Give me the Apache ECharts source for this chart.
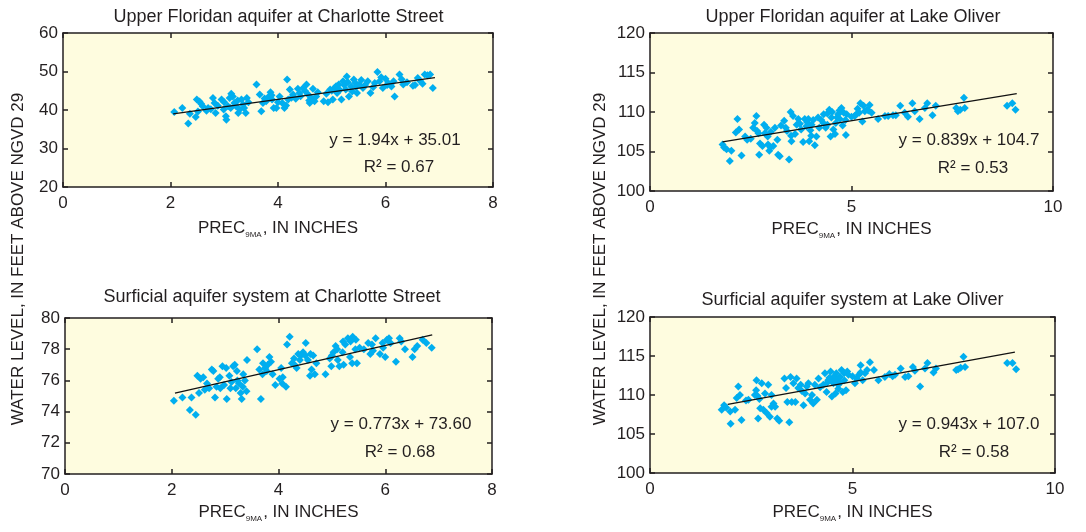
<!DOCTYPE html>
<html>
<head>
<meta charset="utf-8">
<script src="https://cdn.jsdelivr.net/npm/echarts@6/dist/echarts.min.js"></script>
<style>
html,body{margin:0;padding:0;background:#fff;}
#c{width:1086px;height:532px;}
</style>
</head>
<body>
<div id="c"></div>
<script>
// ---------- DATA ----------
const titles = [
  'Upper Floridan aquifer at Charlotte Street',
  'Upper Floridan aquifer at Lake Oliver',
  'Surficial aquifer system at Charlotte Street',
  'Surficial aquifer system at Lake Oliver'
];
const equations = ['y = 1.94x + 35.01', 'y = 0.839x + 104.7', 'y = 0.773x + 73.60', 'y = 0.943x + 107.0'];
const rSquared = ['R\u00B2 = 0.67', 'R\u00B2 = 0.53', 'R\u00B2 = 0.68', 'R\u00B2 = 0.58'];
const xRanges = [[0, 8, 2], [0, 10, 5], [0, 8, 2], [0, 10, 5]];
const yRanges = [[20, 60, 10], [100, 120, 5], [70, 80, 2], [100, 120, 5]];

const ufCharlotte = [
[2.07,39.5],[2.22,40.5],[2.33,36.5],[2.36,39.0],[2.47,38.2],[2.49,42.7],[2.54,42.2],[2.57,41.6],[2.51,39.6],[2.67,39.8],
[2.70,40.5],[2.79,43.1],[2.82,41.8],[2.84,39.2],[2.88,41.1],[2.95,42.7],[2.99,40.1],[3.03,38.4],[3.04,37.5],[3.07,41.0],
[3.10,43.1],[3.13,44.2],[3.16,43.5],[3.19,41.8],[3.22,41.0],[3.26,39.2],[3.29,40.1],[3.32,42.7],[3.35,41.4],[3.40,39.2],
[3.42,43.1],[3.60,46.6],[3.66,44.0],[3.69,39.7],[3.72,41.8],[3.78,42.3],[3.83,43.5],[3.86,44.6],[3.89,42.7],[3.92,40.5],
[3.97,40.5],[4.03,43.5],[4.08,41.8],[4.12,40.5],[4.17,47.9],[4.19,42.7],[4.22,45.3],[4.28,44.0],[4.33,42.9],[4.37,45.5],
[4.40,44.4],[4.47,45.7],[4.53,46.6],[4.56,44.0],[4.59,41.8],[4.62,43.1],[4.65,45.5],[4.68,42.3],[4.71,43.5],[4.85,42.3],
[4.93,42.0],[4.97,45.3],[5.02,42.7],[5.05,45.7],[5.10,44.4],[5.13,46.6],[5.18,42.7],[5.21,47.5],[5.26,45.3],[5.28,48.7],
[5.32,43.5],[5.36,46.1],[5.41,47.9],[5.44,47.0],[5.47,44.4],[5.51,46.6],[5.58,45.7],[5.67,47.5],[5.72,44.4],[5.77,45.9],
[5.85,49.9],[5.89,47.5],[5.95,45.7],[6.00,48.1],[6.05,47.0],[6.11,46.1],[6.17,43.5],[6.26,49.2],[6.33,46.6],[6.51,46.3],
[6.60,48.3],[6.69,46.8],[6.73,49.2],[6.83,49.2],[6.88,45.7],
[2.60,41.0],[2.75,40.2],[3.00,42.0],[3.12,40.5],[3.25,42.5],[3.37,40.5],[3.45,42.0],[3.75,43.0],[3.88,43.8],[4.00,42.0],
[4.15,41.2],[4.25,43.2],[4.42,43.6],[4.50,45.0],[4.58,42.5],[4.74,44.6],[4.90,44.2],[5.00,45.0],[5.08,46.2],[5.15,45.2],
[5.23,46.5],[5.30,47.2],[5.38,44.8],[5.45,46.0],[5.55,47.8],[5.62,46.5],[5.80,47.0],[5.92,48.5],[6.03,46.5],[6.15,47.5],
[6.30,48.0],[6.40,47.2],[6.55,46.5],[6.65,47.5],[6.78,49.0]
];
const ufCharlotteFit = [[2.05,38.99],[6.92,48.43]];

const ufOliver = [
[1.80,105.9],[1.84,105.5],[1.90,105.3],[1.98,103.8],[2.02,105.1],[2.13,107.4],[2.17,109.1],[2.21,107.8],[2.27,104.5],[2.36,106.9],
[2.41,106.5],[2.56,108.0],[2.60,108.6],[2.64,109.5],[2.66,107.6],[2.69,107.3],[2.71,104.6],[2.73,106.0],[2.79,105.7],[2.83,108.4],
[2.89,108.0],[2.92,106.9],[2.93,105.9],[2.96,105.1],[2.99,105.5],[3.06,105.7],[3.10,108.0],[3.16,106.5],[3.18,104.6],[3.22,104.4],
[3.33,108.9],[3.37,108.0],[3.40,107.6],[3.45,104.0],[3.49,110.0],[3.51,106.3],[3.55,109.5],[3.60,107.2],[3.64,108.4],[3.68,109.1],
[3.72,108.5],[3.80,106.2],[3.84,109.1],[3.88,108.2],[3.93,109.1],[3.95,106.3],[3.98,107.7],[4.01,108.4],[4.05,109.0],[4.09,105.8],
[4.13,106.9],[4.17,109.3],[4.30,108.6],[4.31,109.7],[4.36,108.0],[4.40,109.8],[4.45,110.3],[4.48,106.9],[4.50,109.3],[4.55,107.8],
[4.59,107.2],[4.61,108.6],[4.64,109.3],[4.67,109.7],[4.71,109.1],[4.75,110.5],[4.78,108.3],[4.81,109.9],[4.86,107.1],[4.88,109.7],
[5.08,109.5],[5.12,109.7],[5.19,109.9],[5.22,111.1],[5.27,108.8],[5.33,110.1],[5.39,110.3],[5.45,110.9],[5.50,109.9],[5.66,109.1],
[5.83,109.5],[5.91,109.5],[6.03,109.6],[6.10,109.6],[6.21,110.8],[6.32,109.9],[6.40,109.4],[6.51,111.1],[6.57,110.1],[6.69,109.1],
[6.82,110.5],[6.88,111.1],[7.01,109.6],[7.09,110.8],[7.60,110.5],[7.64,110.1],[7.70,110.3],[7.79,111.8],[7.81,110.5],[8.86,110.8],
[8.99,111.1],[9.07,110.3],
[3.00,107.5],[3.25,108.3],[3.50,107.0],[3.75,107.8],[3.90,108.7],[4.20,108.0],[4.25,109.0],[4.40,108.4],[4.52,110.0],[4.70,110.2],
[4.85,109.0],[5.00,109.4],[5.15,110.4],[5.30,110.8],[5.42,110.2],[4.00,107.0],[2.50,106.6],[2.85,107.3]
];
const ufOliverFit = [[1.80,106.21],[9.10,112.33]];

const sasCharlotte = [
[2.04,74.7],[2.20,74.9],[2.34,74.1],[2.37,74.9],[2.45,73.8],[2.48,76.3],[2.51,75.2],[2.54,76.1],[2.59,76.2],[2.66,75.8],
[2.70,75.5],[2.75,76.7],[2.78,76.6],[2.81,74.9],[2.84,75.6],[2.87,76.1],[2.91,75.5],[2.95,76.9],[2.98,75.7],[3.02,76.8],
[3.03,74.8],[3.08,76.3],[3.12,75.9],[3.15,76.9],[3.18,77.0],[3.20,75.5],[3.23,76.0],[3.26,75.8],[3.29,75.2],[3.31,74.8],
[3.34,76.4],[3.37,76.0],[3.40,75.3],[3.41,77.3],[3.60,78.0],[3.64,76.7],[3.67,74.8],[3.71,77.1],[3.75,76.8],[3.78,76.6],
[3.83,77.5],[3.86,77.2],[3.89,76.4],[3.94,75.7],[4.02,76.1],[4.07,75.8],[4.08,76.2],[4.14,75.6],[4.16,78.3],[4.21,78.8],
[4.25,77.1],[4.29,77.4],[4.34,76.8],[4.37,77.7],[4.42,77.6],[4.46,77.8],[4.51,78.4],[4.55,77.3],[4.59,76.3],[4.62,76.7],
[4.65,77.6],[4.68,76.4],[4.71,77.1],[4.88,76.4],[4.96,77.4],[4.99,76.9],[5.03,77.8],[5.07,78.2],[5.11,77.3],[5.14,76.9],
[5.21,78.5],[5.22,77.0],[5.30,78.7],[5.34,77.5],[5.38,77.1],[5.39,78.8],[5.44,78.0],[5.47,77.1],[5.52,78.1],[5.68,78.4],
[5.72,77.7],[5.77,77.9],[5.82,78.7],[5.90,77.7],[5.96,78.1],[6.00,77.5],[6.03,78.6],[6.07,78.7],[6.20,77.2],[6.27,78.7],
[6.37,78.0],[6.51,77.5],[6.55,78.0],[6.70,78.6],[6.77,78.4],[6.87,78.1],
[2.62,75.4],[2.90,76.2],[3.10,75.5],[3.22,76.6],[3.33,75.6],[3.70,76.4],[3.80,77.0],[4.05,76.8],[4.30,77.0],[4.40,77.3],
[4.50,77.6],[4.60,77.7],[5.00,77.6],[5.10,78.0],[5.20,77.8],[5.25,78.3],[5.35,78.5],[5.45,78.6],[5.60,78.0],[5.75,78.3],
[5.95,78.4],[6.10,78.4],[6.30,78.5],[6.60,78.2]
];
const sasCharlotteFit = [[2.06,75.19],[6.88,78.92]];

const sasOliver = [
[1.77,108.1],[1.83,108.7],[1.88,108.4],[1.98,107.9],[1.99,106.3],[2.10,108.1],[2.14,109.6],[2.18,111.1],[2.22,110.0],[2.26,106.8],
[2.37,109.3],[2.43,109.4],[2.59,110.0],[2.62,110.6],[2.63,111.9],[2.65,109.9],[2.67,107.0],[2.72,108.3],[2.76,111.5],[2.80,108.1],
[2.84,110.2],[2.88,107.7],[2.92,111.3],[2.96,107.2],[3.00,108.5],[3.05,108.9],[3.09,108.5],[3.14,107.0],[3.19,106.7],[3.32,112.1],
[3.36,110.9],[3.39,109.1],[3.44,106.5],[3.47,112.3],[3.50,109.1],[3.54,111.5],[3.59,109.1],[3.62,112.1],[3.66,110.9],[3.72,111.3],
[3.79,108.7],[3.83,110.2],[3.87,111.1],[3.91,111.5],[3.95,109.4],[4.00,110.0],[4.03,108.9],[4.07,111.3],[4.12,109.4],[4.16,112.1],
[4.28,111.3],[4.32,112.8],[4.36,110.4],[4.40,111.9],[4.46,113.0],[4.49,109.8],[4.53,111.5],[4.58,110.2],[4.61,111.9],[4.65,111.3],
[4.69,112.3],[4.73,113.2],[4.76,110.4],[4.79,112.8],[4.84,110.6],[4.87,113.0],[5.06,111.5],[5.10,112.1],[5.16,112.6],[5.20,113.8],
[5.25,111.9],[5.31,112.8],[5.36,113.2],[5.43,114.2],[5.53,113.2],[5.64,111.9],[5.80,112.3],[5.91,112.7],[5.99,112.4],[6.05,112.6],
[6.19,113.4],[6.30,112.3],[6.38,112.4],[6.49,113.6],[6.54,113.1],[6.67,111.1],[6.79,113.4],[6.85,114.1],[7.00,112.9],[7.06,113.4],
[7.56,113.2],[7.61,113.3],[7.67,113.5],[7.74,114.9],[7.78,113.6],[8.82,114.1],[8.95,114.1],[9.04,113.3],
[4.50,111.8],[4.55,112.4],[4.60,112.8],[4.70,111.6],[4.80,111.9],[4.43,112.2],[4.20,111.0],[3.75,110.5],[3.00,110.0],[2.70,109.5],
[5.00,112.4],[5.20,112.9],[4.65,110.8],[4.38,111.6],[4.90,112.6]
];
const sasOliverFit = [[1.92,108.81],[9.01,115.50]];

const scatterData = [ufCharlotte, ufOliver, sasCharlotte, sasOliver];
const fitData = [ufCharlotteFit, ufOliverFit, sasCharlotteFit, sasOliverFit];

// ---------- LAYOUT / STYLE ----------
const FONT = '"Liberation Sans", Arial, sans-serif';
const INK = '#231f20';
const grids = [
  {left: 63, top: 33, width: 430, height: 154},
  {left: 650, top: 33, width: 403, height: 158},
  {left: 65, top: 318, width: 427, height: 156},
  {left: 650, top: 317, width: 405, height: 156}
];
const nameGaps = [33, 30, 30, 31];
const titlePos = [[278.5, 17], [853, 17], [272, 297], [852.5, 300]];
const eqPos = [[395, 140], [969, 140], [401, 424], [969, 424]];
const r2Pos = [[399, 167], [973, 168], [400, 452], [974, 452]];

const xAxes = [], yAxes = [], series = [], titleComps = [], graphics = [];
const lineStyle = {color: INK, width: 1.5};

for (let i = 0; i < 4; i++) {
  const [xmin, xmax, xint] = xRanges[i];
  const [ymin, ymax, yint] = yRanges[i];
  xAxes.push({
    type: 'value', gridIndex: i, position: 'bottom', min: xmin, max: xmax, interval: xint,
    axisLine: {show: true, onZero: false, lineStyle},
    axisTick: {show: true, inside: true, length: 5, lineStyle: {color: INK, width: 1.5}},
    splitLine: {show: false},
    axisLabel: {show: true, margin: 8, color: INK, fontFamily: FONT, fontSize: 17, showMinLabel: true, showMaxLabel: true},
    name: '{b|PREC}{s|9MA}{b|, IN INCHES}',
    nameLocation: 'middle', nameGap: nameGaps[i],
    nameTextStyle: {
      color: INK, fontFamily: FONT,
      rich: {
        b: {fontSize: 17, fontFamily: FONT, color: INK, lineHeight: 17, verticalAlign: 'bottom'},
        s: {fontSize: 8, fontFamily: FONT, color: INK, lineHeight: 8, verticalAlign: 'bottom', padding: [0, 1, -2, 0]}
      }
    }
  });
  xAxes.push({
    type: 'value', gridIndex: i, position: 'top', min: xmin, max: xmax, interval: xint,
    axisLine: {show: true, onZero: false, lineStyle},
    axisTick: {show: true, inside: true, length: 5, lineStyle: {color: INK, width: 1.5}},
    splitLine: {show: false}, axisLabel: {show: false}
  });
  yAxes.push({
    type: 'value', gridIndex: i, position: 'left', min: ymin, max: ymax, interval: yint,
    axisLine: {show: true, onZero: false, lineStyle},
    axisTick: {show: true, inside: true, length: 5, lineStyle: {color: INK, width: 1.5}},
    splitLine: {show: false},
    axisLabel: {show: true, margin: 5, color: INK, fontFamily: FONT, fontSize: 17, showMinLabel: true, showMaxLabel: true}
  });
  yAxes.push({
    type: 'value', gridIndex: i, position: 'right', min: ymin, max: ymax, interval: yint,
    axisLine: {show: true, onZero: false, lineStyle},
    axisTick: {show: true, inside: true, length: 5, lineStyle: {color: INK, width: 1.5}},
    splitLine: {show: false}, axisLabel: {show: false}
  });
  series.push({
    type: 'scatter', xAxisIndex: 2 * i, yAxisIndex: 2 * i, data: scatterData[i],
    symbol: 'diamond', symbolSize: 8, itemStyle: {color: '#00aeef', opacity: 1},
    silent: true, z: 3
  });
  series.push({
    type: 'line', xAxisIndex: 2 * i, yAxisIndex: 2 * i, data: fitData[i],
    symbol: 'none', lineStyle: {color: '#111', width: 1.3}, silent: true, z: 4
  });
  titleComps.push({
    text: titles[i], left: titlePos[i][0], top: titlePos[i][1],
    textAlign: 'center', textVerticalAlign: 'middle', padding: 0,
    textStyle: {fontFamily: FONT, fontSize: 18, fontWeight: 'normal', color: INK}
  });
  graphics.push({
    type: 'text', x: eqPos[i][0], y: eqPos[i][1], z: 10,
    style: {text: equations[i], textAlign: 'center', textVerticalAlign: 'middle', font: '17px ' + FONT, fill: INK}
  });
  graphics.push({
    type: 'text', x: r2Pos[i][0], y: r2Pos[i][1], z: 10,
    style: {text: rSquared[i], textAlign: 'center', textVerticalAlign: 'middle', font: '17px ' + FONT, fill: INK}
  });
}

const yLabel = 'WATER LEVEL, IN FEET ABOVE NGVD 29';
[[18.5, 259], [600, 259]].forEach(p => {
  graphics.push({
    type: 'text', x: p[0], y: p[1], rotation: Math.PI / 2, z: 10,
    style: {text: yLabel, textAlign: 'center', textVerticalAlign: 'middle', font: '17px ' + FONT, fill: INK}
  });
});

const chart = echarts.init(document.getElementById('c'), null, {renderer: 'canvas'});
chart.setOption({
  backgroundColor: '#ffffff',
  animation: false,
  title: titleComps,
  grid: grids.map(g => Object.assign({show: true, backgroundColor: '#fefcdf', borderWidth: 0, containLabel: false}, g)),
  xAxis: xAxes,
  yAxis: yAxes,
  series: series,
  graphic: graphics
});
</script>
</body>
</html>
